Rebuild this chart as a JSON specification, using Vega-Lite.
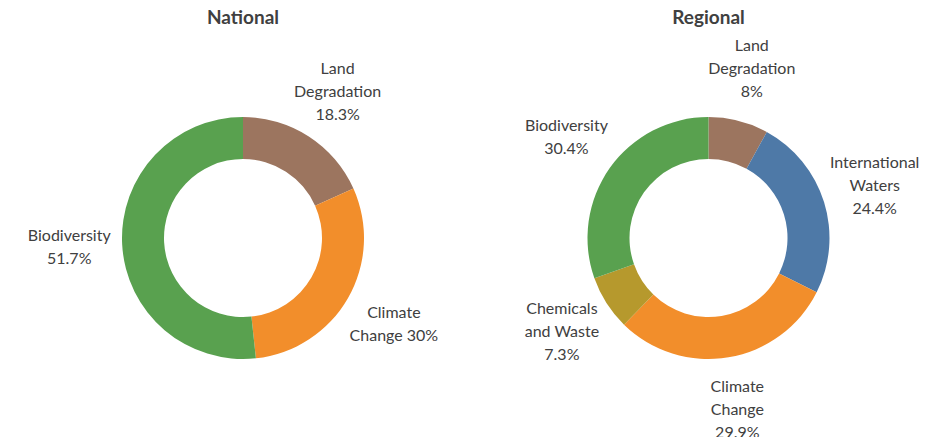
{
  "$schema": "https://vega.github.io/schema/vega-lite/v6.json",
  "padding": {"top": 9, "left": 0, "right": 0, "bottom": 0},
  "spacing": 0,
  "background": "white",
  "config": {
    "view": {"stroke": null},
    "font": "Lato",
    "title": {"fontSize": 19, "fontWeight": "bold", "color": "#404040", "anchor": "middle", "offset": 10},
    "text": {"lineBreak": "\n", "fontSize": 16, "lineHeight": 23, "color": "#404040", "align": "center", "baseline": "middle", "radius": 174}
  },
  "datasets": {
    "national": [
      {"topic": "Land Degradation", "share": 18.3, "order": 1, "label": "Land\nDegradation\n18.3%"},
      {"topic": "Climate Change", "share": 30.0, "order": 2, "label": "Climate\nChange 30%"},
      {"topic": "Biodiversity", "share": 51.7, "order": 3, "label": "Biodiversity\n51.7%"}
    ],
    "regional": [
      {"topic": "Land Degradation", "share": 8.0, "order": 1, "label": "Land\nDegradation\n8%"},
      {"topic": "International Waters", "share": 24.4, "order": 2, "label": "International\nWaters\n24.4%"},
      {"topic": "Climate Change", "share": 29.9, "order": 3, "label": "Climate\nChange\n29.9%"},
      {"topic": "Chemicals and Waste", "share": 7.3, "order": 4, "label": "Chemicals\nand Waste\n7.3%"},
      {"topic": "Biodiversity", "share": 30.4, "order": 5, "label": "Biodiversity\n30.4%"}
    ]
  },
  "hconcat": [
    {
      "width": 486,
      "height": 400,
      "title": "National",
      "data": {"name": "national"},
      "transform": [
        {"stack": "share", "groupby": [], "sort": [{"field": "order", "order": "ascending"}], "as": ["t0", "t1"]},
        {"calculate": "(datum.t0 + datum.t1) / 2", "as": "mid"},
        {"calculate": "length(split(datum.label, '\\n'))", "as": "nlines"}
      ],
      "layer": [
        {
          "mark": {"type": "arc", "innerRadius": 79, "outerRadius": 121},
          "encoding": {
            "theta": {"field": "t0", "type": "quantitative", "scale": {"domain": [0, 100]}},
            "theta2": {"field": "t1"},
            "color": {
              "field": "topic", "type": "nominal", "legend": null,
              "scale": {
                "domain": ["Land Degradation", "International Waters", "Climate Change", "Chemicals and Waste", "Biodiversity"],
                "range": ["#9C755F", "#4E79A7", "#F28E2B", "#B6992D", "#59A14F"]
              }
            }
          }
        },
        {
          "transform": [{"filter": "datum.nlines == 3"}],
          "mark": {"type": "text", "dy": -23},
          "encoding": {
            "theta": {"field": "mid", "type": "quantitative", "scale": {"domain": [0, 100]}},
            "text": {"field": "label", "type": "nominal"}
          }
        },
        {
          "transform": [{"filter": "datum.nlines == 2"}],
          "mark": {"type": "text", "dy": -11.5},
          "encoding": {
            "theta": {"field": "mid", "type": "quantitative", "scale": {"domain": [0, 100]}},
            "text": {"field": "label", "type": "nominal"}
          }
        }
      ]
    },
    {
      "width": 445,
      "height": 400,
      "title": "Regional",
      "data": {"name": "regional"},
      "transform": [
        {"stack": "share", "groupby": [], "sort": [{"field": "order", "order": "ascending"}], "as": ["t0", "t1"]},
        {"calculate": "(datum.t0 + datum.t1) / 2", "as": "mid"},
        {"calculate": "length(split(datum.label, '\\n'))", "as": "nlines"}
      ],
      "layer": [
        {
          "mark": {"type": "arc", "innerRadius": 79, "outerRadius": 121},
          "encoding": {
            "theta": {"field": "t0", "type": "quantitative", "scale": {"domain": [0, 100]}},
            "theta2": {"field": "t1"},
            "color": {
              "field": "topic", "type": "nominal", "legend": null,
              "scale": {
                "domain": ["Land Degradation", "International Waters", "Climate Change", "Chemicals and Waste", "Biodiversity"],
                "range": ["#9C755F", "#4E79A7", "#F28E2B", "#B6992D", "#59A14F"]
              }
            }
          }
        },
        {
          "transform": [{"filter": "datum.nlines == 3"}],
          "mark": {"type": "text", "dy": -23},
          "encoding": {
            "theta": {"field": "mid", "type": "quantitative", "scale": {"domain": [0, 100]}},
            "text": {"field": "label", "type": "nominal"}
          }
        },
        {
          "transform": [{"filter": "datum.nlines == 2"}],
          "mark": {"type": "text", "dy": -11.5},
          "encoding": {
            "theta": {"field": "mid", "type": "quantitative", "scale": {"domain": [0, 100]}},
            "text": {"field": "label", "type": "nominal"}
          }
        }
      ]
    }
  ]
}
